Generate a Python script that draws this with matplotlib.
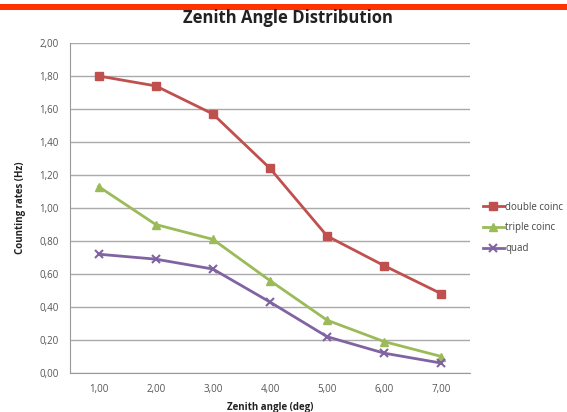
import matplotlib.pyplot as plt
from matplotlib.patches import Rectangle
from matplotlib.ticker import FuncFormatter

angles = ["1,00", "2,00", "3,00", "4,00", "5,00", "6,00", "7,00"]
double_coinc = [1.80, 1.74, 1.57, 1.24, 0.83, 0.65, 0.48]
triple_coinc = [1.13, 0.90, 0.81, 0.56, 0.32, 0.19, 0.10]
quad = [0.72, 0.69, 0.63, 0.43, 0.22, 0.12, 0.06]

plt.rcParams["font.family"] = ["Open Sans", "DejaVu Sans"]

fig = plt.figure(figsize=(5.67, 4.12), dpi=100)

# rode balk bovenaan
fig.patches.append(Rectangle((0, 1 - 10 / 412), 1, 6 / 412, transform=fig.transFigure,
                             facecolor="#FF3300", edgecolor="none"))

ax = fig.add_axes([70 / 567, 39 / 412, 400 / 567, 330 / 412])

x = range(len(angles))
ax.plot(x, double_coinc, color="#C0504D", lw=2, marker="s", ms=6, label="double coinc")
ax.plot(x, triple_coinc, color="#9BBB59", lw=2, marker="^", ms=6, label="triple coinc")
ax.plot(x, quad, color="#8064A2", lw=2, marker="x", ms=6, mew=1.5, label="quad")

ax.set_xlim(-0.5, len(angles) - 0.5)
ax.set_ylim(0, 2.0)
ax.set_yticks([i * 0.2 for i in range(11)])
ax.yaxis.set_major_formatter(FuncFormatter(lambda v, p: f"{v:.2f}".replace(".", ",")))
ax.set_xticks(list(x))
ax.set_xticklabels(angles)
ax.tick_params(length=0, labelsize=7, colors="#555555", pad=8)
ax.grid(axis="y", color="#AAAAAA", lw=1)
ax.set_axisbelow(True)
for s in ["top", "right"]:
    ax.spines[s].set_visible(False)
for s in ["left", "bottom"]:
    ax.spines[s].set_color("#999999")

ax.set_xlabel("Zenith angle (deg)", fontsize=7, fontweight="bold", color="#222222", labelpad=5)
ax.set_ylabel("Counting rates (Hz)", fontsize=7, fontweight="bold", color="#222222", labelpad=10)
fig.text(0.507, 0.957, "Zenith Angle Distribution", ha="center", va="center",
         fontsize=12, fontweight="bold", color="#222222")

ax.legend(loc="center left", bbox_to_anchor=(1.01, 0.44), frameon=False, fontsize=7,
          handlelength=2.2, handletextpad=0.1, labelspacing=1.0, labelcolor="#444444")

plt.savefig("out.png", dpi=100)
